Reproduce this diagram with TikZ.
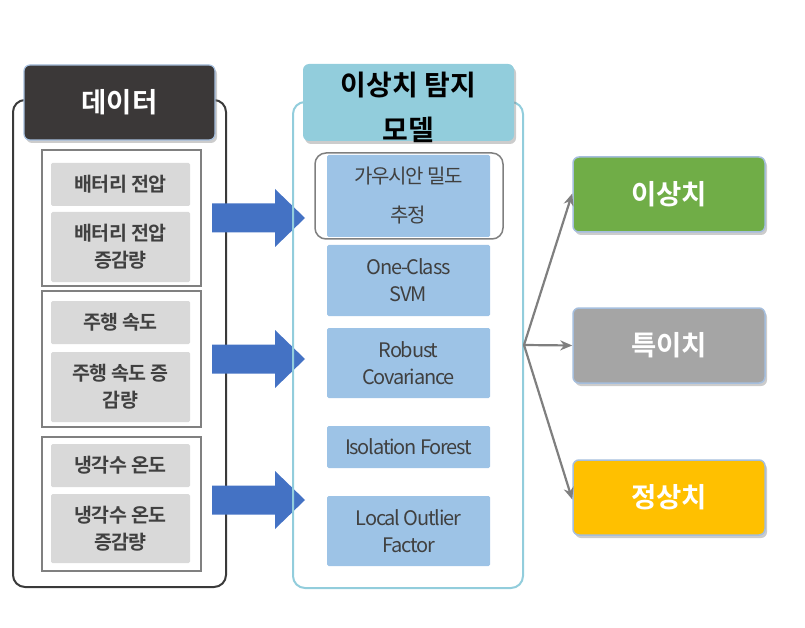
\documentclass[tikz,border=0pt]{standalone}
\usepackage{fontspec}
\setmainfont{Noto Sans CJK KR}[BoldFont={Noto Sans CJK KR Bold}]
\newfontfamily\krn{Noto Sans CJK KR}[LetterSpace=-6]
\newfontfamily\krt{Noto Sans CJK KR}[BoldFont={Noto Sans CJK KR Bold}, LetterSpace=-3]
\usetikzlibrary{shadows,arrows.meta}
\definecolor{hdark}{HTML}{3B3838}
\definecolor{hborder}{HTML}{A5BEDD}
\definecolor{frameDark}{HTML}{3A3A3A}
\definecolor{grpgray}{HTML}{808080}
\definecolor{itemfill}{HTML}{D9D9D9}
\definecolor{txtgray}{HTML}{404040}
\definecolor{arrblue}{HTML}{4472C4}
\definecolor{lightblue}{HTML}{92CDDC}
\definecolor{modelfill}{HTML}{9DC3E6}
\definecolor{okgreen}{HTML}{70AD47}
\definecolor{midgray}{HTML}{A5A5A5}
\definecolor{gold}{HTML}{FFC000}
\definecolor{arrgray}{HTML}{7F7F7F}
\tikzset{
  frame/.style={draw, line width=2pt, rounded corners=12pt, inner sep=0pt},
  header/.style={rounded corners=6pt, inner sep=0pt, draw=hborder, line width=1.2pt,
    drop shadow={shadow xshift=2pt, shadow yshift=-3pt, opacity=0.4}},
  grp/.style={draw=grpgray, line width=2pt, inner sep=0pt},
  item/.style={fill=itemfill, rounded corners=1.5pt, inner sep=0pt, minimum width=139pt,
    text=txtgray, font=\krt\fontsize{19.5}{27}\selectfont\bfseries, align=center},
  model/.style={fill=modelfill, rounded corners=1.5pt, inner sep=0pt, minimum width=163pt,
    text=txtgray, font=\krn\fontsize{20}{27}\selectfont, align=center},
  result/.style={rounded corners=6pt, inner sep=0pt, minimum width=192pt, minimum height=75pt,
    draw=hborder, line width=1.5pt, text=white, font=\fontsize{27.5}{30}\selectfont\bfseries,
    drop shadow={shadow xshift=2pt, shadow yshift=-3pt, opacity=0.4}},
  blockarrow/.style={fill=arrblue},
  outarrow/.style={draw=arrgray, line width=2.2pt, -{Stealth[length=12pt,width=10pt]}},
}
\begin{document}
\begin{tikzpicture}[x=1pt,y=-1pt]
\useasboundingbox (0,0) rectangle (805,628);
% ---------- data column ----------
\node[frame, draw=frameDark, minimum width=213pt, minimum height=487pt] (dataframe) at (119.5,343.5) {};
\node[header, fill=hdark, minimum width=191pt, minimum height=75pt,
      text=white, font=\fontsize{27.5}{30}\selectfont\bfseries] (datahdr) at (119.5,102.5) {데이터};
\node[grp, minimum width=159pt, minimum height=136pt] (g1) at (121.5,218) {};
\node[grp, minimum width=159pt, minimum height=136pt] (g2) at (121.5,359) {};
\node[grp, minimum width=159pt, minimum height=134pt] (g3) at (121.5,504) {};
\node[item, minimum height=43pt] (i1) at (120.5,184.5) {배터리 전압};
\node[item, minimum height=70pt] (i2) at (120.5,247) {배터리 전압\\증감량};
\node[item, minimum height=43pt] (i3) at (120.5,322.5) {주행 속도};
\node[item, minimum height=70pt] (i4) at (120.5,387) {주행 속도 증\\감량};
\node[item, minimum height=43pt] (i5) at (120.5,465.5) {냉각수 온도};
\node[item, minimum height=69pt] (i6) at (120.5,528.5) {냉각수 온도\\증감량};
% ---------- block arrows ----------
\foreach \yy/\nm in {218/ba1, 359/ba2, 500/ba3}{
  \fill[blockarrow] (212,\yy-14.5) -- (275,\yy-14.5) -- (275,\yy-29) -- (305,\yy)
     -- (275,\yy+29) -- (275,\yy+14.5) -- (212,\yy+14.5) -- cycle;
}
% ---------- model column ----------
\node[frame, draw=lightblue, minimum width=230pt, minimum height=486pt] (modelframe) at (408,345) {};
\node[header, fill=lightblue, draw=none, minimum width=211pt, minimum height=77pt] (modelhdr) at (408.5,102.5) {};
\node[font=\fontsize{28}{45}\selectfont\bfseries, align=center, inner sep=0pt, yshift=-5pt]
     (modelhdrtext) at (modelhdr.center) {이상치 탐지\\모델};
\node[model, minimum height=82pt, font=\krn\fontsize{20}{39}\selectfont] (m1) at (408.5,196) {가우시안 밀도\\추정};
\node[draw=arrgray, line width=1.5pt, rounded corners=11pt, minimum width=188pt, minimum height=86pt,
      inner sep=0pt] (m1ring) at (409,196) {};
\node[model, minimum height=71pt] (m2) at (408.5,280.5) {One-Class\\SVM};
\node[model, minimum height=70pt] (m3) at (408.5,363) {Robust\\Covariance};
\node[model, minimum height=42pt] (m4) at (408.5,447) {Isolation Forest};
\node[model, minimum height=70pt] (m5) at (408.5,531) {Local Outlier\\Factor};
% ---------- results ----------
\node[result, fill=okgreen] (r1) at (669,194.5) {이상치};
\node[result, fill=midgray] (r2) at (669,345.5) {특이치};
\node[result, fill=gold] (r3) at (669,497.5) {정상치};
\coordinate (split) at (524,345);
\draw[outarrow] (split) -- ([yshift=1pt]r1.west);
\draw[outarrow] (split) -- (r2.west);
\draw[outarrow] (split) -- ([yshift=-2pt]r3.west);
\end{tikzpicture}
\end{document}
